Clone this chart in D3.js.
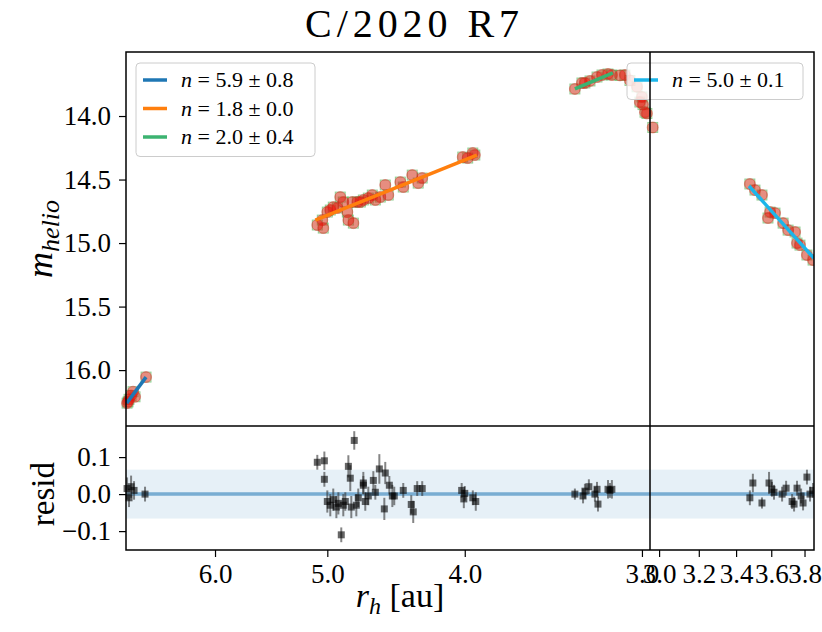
<!DOCTYPE html>
<html>
<head>
<meta charset="utf-8">
<script src="https://cdn.jsdelivr.net/npm/d3@7"></script>
<style>
  body { margin: 0; background: #fff; }
  svg text { font-family: "Liberation Serif", "DejaVu Serif", serif; fill: #000; }
</style>
</head>
<body>
<div id="chart"></div>
<script>
// ---- data ----
// inbound, blue fit (far)
const rhA = [6.921, 6.910, 6.899, 6.876, 6.854, 6.832, 6.711];
const magA = [16.26, 16.25, 16.23, 16.20, 16.17, 16.21, 16.055];
const resRhA = [6.921, 6.899, 6.876, 6.843, 6.722];
const resA = [0.015, -0.01, 0.02, 0.01, 0.0];
const errA = [0.03, 0.025, 0.03, 0.025, 0.02];

// inbound, orange fit
const rhB = [5.082, 5.041, 5.033, 5.000, 4.976, 4.952, 4.919, 4.896, 4.872, 4.840, 4.832, 4.801, 4.793,
  4.762, 4.739, 4.716, 4.678, 4.648, 4.625, 4.588, 4.551, 4.529, 4.441, 4.420, 4.356, 4.314, 4.286,
  4.013, 3.981, 3.948, 3.935];
const magB = [14.858, 14.819, 14.882, 14.756, 14.740, 14.717, 14.724, 14.638, 14.677, 14.756, 14.819, 14.677, 14.843,
  14.677, 14.677, 14.661, 14.646, 14.622, 14.661, 14.638, 14.543, 14.622, 14.520, 14.559, 14.465, 14.528, 14.488,
  14.323, 14.331, 14.291, 14.307];
const resRhB = [5.082, 5.024, 5.024, 5.000, 4.976, 4.952, 4.927, 4.911, 4.888, 4.872, 4.856, 4.832, 4.817, 4.809,
  4.786, 4.770, 4.755, 4.716, 4.716, 4.701, 4.678, 4.640, 4.625, 4.595, 4.558, 4.551, 4.521, 4.499, 4.485,
  4.420, 4.363, 4.349, 4.321, 4.286, 4.020, 4.006, 4.000, 3.948, 3.929];
const resB = [0.086, 0.09, 0.04, -0.02, -0.03, -0.015, -0.035, -0.025, -0.11, -0.03, -0.02, 0.075, 0.043, -0.035,
  0.145, -0.03, -0.01, 0.03, 0.024, -0.02, -0.005, 0.037, 0.005, 0.068, -0.04, 0.057, 0.024, -0.005, -0.005,
  0.01, -0.028, -0.048, 0.015, 0.015, 0.01, -0.013, 0.002, -0.01, -0.02];
const errB = [0.02, 0.025, 0.02, 0.03, 0.03, 0.03, 0.03, 0.03, 0.02, 0.03, 0.025, 0.03, 0.035, 0.03,
  0.025, 0.03, 0.025, 0.03, 0.025, 0.025, 0.025, 0.025, 0.02, 0.04, 0.03, 0.03, 0.025, 0.03, 0.025,
  0.02, 0.025, 0.03, 0.02, 0.02, 0.02, 0.025, 0.02, 0.02, 0.025];

// inbound, green fit (near perihelion)
const rhC = [3.345, 3.307, 3.291, 3.264, 3.227, 3.201, 3.170, 3.150];
const magC = [13.787, 13.740, 13.740, 13.724, 13.693, 13.677, 13.669, 13.677];
const resRhC = [3.345, 3.301, 3.291, 3.270, 3.238, 3.227, 3.222, 3.170, 3.160, 3.150];
const resC = [0.0, -0.005, 0.008, 0.02, 0.0, 0.013, -0.027, 0.013, 0.01, 0.013];
const errC = [0.015, 0.02, 0.02, 0.02, 0.02, 0.02, 0.02, 0.025, 0.02, 0.025];

// inbound, no fit
const rhD = [3.109, 3.084, 3.059, 3.024, 3.010, 3.000, 2.995, 2.985, 2.976, 2.948];
const magD = [13.68, 13.677, 13.72, 13.77, 13.89, 13.85, 13.91, 13.97, 13.98, 14.09];

// outbound, cyan fit
const rhE = [3.477, 3.506, 3.546, 3.581, 3.593, 3.622, 3.670, 3.700, 3.742, 3.754, 3.772, 3.815, 3.853];
const magE = [14.535, 14.583, 14.622, 14.803, 14.756, 14.764, 14.843, 14.898, 14.913, 15.0, 15.016, 15.094, 15.134];
const resRhE = [3.477, 3.494, 3.546, 3.587, 3.604, 3.616, 3.664, 3.688, 3.724, 3.736, 3.754, 3.779, 3.791, 3.815, 3.834, 3.853];
const resE = [-0.01, 0.03, -0.024, 0.03, 0.013, 0.005, 0.0, 0.016, -0.02, -0.027, 0.016, -0.005, -0.024, 0.046, 0.0, 0.01];
const errE = [0.02, 0.025, 0.015, 0.03, 0.02, 0.02, 0.02, 0.02, 0.02, 0.02, 0.02, 0.02, 0.02, 0.02, 0.02, 0.02];

// fit lines: [r0, m0, r1, m1]
const fitA = [6.925, 16.26, 6.711, 16.055];
const fitB = [5.098, 14.819, 3.922, 14.307];
const fitC = [3.345, 13.787, 3.145, 13.661];
const fitE = [3.472, 14.551, 3.859, 15.12];

const legendIn = [
  { label: "5.9 \u00b1 0.8", color: "#1f77b4" },
  { label: "1.8 \u00b1 0.0", color: "#ff7f0e" },
  { label: "2.0 \u00b1 0.4", color: "#3cb371" }
];
const legendOut = [{ label: "5.0 \u00b1 0.1", color: "#1cb6ea" }];

const magTicks = [14.0, 14.5, 15.0, 15.5, 16.0];
const resTicks = [0.1, 0.0, -0.1];
const inTicks = [6.0, 5.0, 4.0, 3.0];
const outTicks = [3.0, 3.2, 3.4, 3.6, 3.8];
const band = 0.066;

// ---- layout ----
const width = 822, height = 632;
const L = 126, R = 814, xBrk = 650;
const yTop = 52, yMid = 426, yBot = 550;

const svg = d3.select("#chart").append("svg")
  .attr("width", width)
  .attr("height", height);

const xIn = d3.scaleLog().domain([6.933, 2.961]).range([L, xBrk]);
const xOut = d3.scaleLog().domain([2.956, 3.859]).range([xBrk, R]);
const yMag = d3.scaleLinear().domain([13.496, 16.44]).range([yTop, yMid]);
const yRes = d3.scaleLinear().domain([0.184, -0.151]).range([yMid, yBot]);

svg.append("clipPath").attr("id", "clipOut")
  .append("rect").attr("x", xBrk).attr("y", yTop).attr("width", R - xBrk).attr("height", yBot - yTop);

// residual band + zero line
[[L, xBrk], [xBrk, R]].forEach(([x0, x1]) => {
  svg.append("rect")
    .attr("x", x0).attr("width", x1 - x0)
    .attr("y", yRes(band)).attr("height", yRes(-band) - yRes(band))
    .attr("fill", "#1f77b4").attr("fill-opacity", 0.11);
  svg.append("line")
    .attr("x1", x0).attr("x2", x1)
    .attr("y1", yRes(0)).attr("y2", yRes(0))
    .attr("stroke", "#1f77b4").attr("stroke-opacity", 0.55).attr("stroke-width", 3.5);
});

function zip(a, b) { return a.map((v, i) => [v, b[i]]); }

function drawPoints(g, sc, rh, mag) {
  const pts = zip(rh, mag);
  g.selectAll(null).data(pts).enter().append("rect")
    .attr("x", d => sc(d[0]) - 5).attr("y", d => yMag(d[1]) - 5)
    .attr("width", 10).attr("height", 10)
    .attr("fill", "#2ca02c").attr("fill-opacity", 0.2)
    .attr("stroke", "#2ca02c").attr("stroke-opacity", 0.45).attr("stroke-width", 1);
  g.selectAll(null).data(pts).enter().append("circle")
    .attr("cx", d => sc(d[0])).attr("cy", d => yMag(d[1]))
    .attr("r", 5.5)
    .attr("fill", "red").attr("fill-opacity", 0.4)
    .attr("stroke", "#d62728").attr("stroke-opacity", 0.4).attr("stroke-width", 1);
}

function drawFit(g, sc, f, color) {
  g.append("line")
    .attr("x1", sc(f[0])).attr("y1", yMag(f[1]))
    .attr("x2", sc(f[2])).attr("y2", yMag(f[3]))
    .attr("stroke", color).attr("stroke-width", 3.5);
}

function drawRes(g, sc, rh, res, err) {
  const pts = rh.map((r, i) => ({ r: r, v: res[i], e: err[i] }));
  g.selectAll(null).data(pts).enter().append("line")
    .attr("x1", d => sc(d.r)).attr("x2", d => sc(d.r))
    .attr("y1", d => yRes(d.v + d.e)).attr("y2", d => yRes(d.v - d.e))
    .attr("stroke", "#333").attr("stroke-opacity", 0.6).attr("stroke-width", 2);
  g.selectAll(null).data(pts).enter().append("rect")
    .attr("x", d => sc(d.r) - 3.5).attr("y", d => yRes(d.v) - 3.5)
    .attr("width", 7).attr("height", 7)
    .attr("fill", "#000").attr("fill-opacity", 0.6);
}

const gIn = svg.append("g");
drawPoints(gIn, xIn, rhA, magA);
drawPoints(gIn, xIn, rhB, magB);
drawPoints(gIn, xIn, rhC, magC);
drawPoints(gIn, xIn, rhD, magD);
drawFit(gIn, xIn, fitA, legendIn[0].color);
drawFit(gIn, xIn, fitB, legendIn[1].color);
drawFit(gIn, xIn, fitC, legendIn[2].color);
drawRes(gIn, xIn, resRhA, resA, errA);
drawRes(gIn, xIn, resRhB, resB, errB);
drawRes(gIn, xIn, resRhC, resC, errC);

const gOut = svg.append("g").attr("clip-path", "url(#clipOut)");
drawPoints(gOut, xOut, rhE, magE);
drawFit(gOut, xOut, fitE, legendOut[0].color);
drawRes(gOut, xOut, resRhE, resE, errE);

// ---- legends ----
function legend(x, y, w, items) {
  const g = svg.append("g").attr("transform", `translate(${x},${y})`);
  const rowH = 28.5;
  g.append("rect")
    .attr("width", w).attr("height", 8 + rowH * items.length)
    .attr("rx", 4)
    .attr("fill", "#fff").attr("fill-opacity", 0.8)
    .attr("stroke", "#ccc").attr("stroke-width", 1);
  items.forEach((d, i) => {
    const cy = 17 + i * rowH;
    g.append("line").attr("x1", 7).attr("x2", 31).attr("y1", cy).attr("y2", cy)
      .attr("stroke", d.color).attr("stroke-width", 3.5);
    const t = g.append("text").attr("x", 45).attr("y", cy + 7).attr("font-size", 22);
    t.append("tspan").attr("font-style", "italic").text("n");
    t.append("tspan").text(" = " + d.label);
  });
}
legend(136, 63, 179, legendIn);
legend(627, 63, 176, legendOut);

// ---- axes ----
const fmt = d3.format(".1f");
svg.append("g").attr("transform", `translate(${L},0)`)
  .call(d3.axisLeft(yMag).tickValues(magTicks).tickFormat(fmt).tickSizeOuter(0).tickSize(7).tickPadding(8));
svg.append("g").attr("transform", `translate(${L},0)`)
  .call(d3.axisLeft(yRes).tickValues(resTicks).tickFormat(fmt).tickSizeOuter(0).tickSize(7).tickPadding(8));
svg.append("g").attr("transform", `translate(0,${yBot})`)
  .call(d3.axisBottom(xIn).tickValues(inTicks).tickFormat(fmt).tickSizeOuter(0).tickSize(7).tickPadding(7));
svg.append("g").attr("transform", `translate(0,${yBot})`)
  .call(d3.axisBottom(xOut).tickValues(outTicks).tickFormat(fmt).tickSizeOuter(0).tickSize(7).tickPadding(7));

svg.selectAll(".domain").remove();
svg.selectAll(".tick line").attr("stroke", "#000").attr("stroke-width", 1.2);
svg.selectAll(".tick text").attr("font-size", 27).attr("font-family", "Liberation Serif").attr("fill", "#000");

// frames
const frame = svg.append("g").attr("fill", "none").attr("stroke", "#000").attr("stroke-width", 1.5);
frame.append("rect").attr("x", L).attr("y", yTop).attr("width", R - L).attr("height", yBot - yTop);
frame.append("line").attr("x1", L).attr("x2", R).attr("y1", yMid).attr("y2", yMid);
frame.append("line").attr("x1", xBrk).attr("x2", xBrk).attr("y1", yTop).attr("y2", yBot);

// ---- labels ----
svg.append("text").attr("x", 412).attr("y", 37).attr("text-anchor", "middle")
  .attr("font-size", 40).attr("textLength", 214).attr("lengthAdjust", "spacing")
  .text("C/2020 R7");

const yl = svg.append("text")
  .attr("transform", `translate(52,${(yTop + yMid) / 2}) rotate(-90)`)
  .attr("text-anchor", "middle").attr("font-size", 36);
yl.append("tspan").attr("font-style", "italic").text("m");
yl.append("tspan").attr("font-style", "italic").attr("font-size", 26).attr("dy", 7).text("helio");

svg.append("text")
  .attr("transform", `translate(54,${yRes(0)}) rotate(-90)`)
  .attr("text-anchor", "middle").attr("font-size", 33).text("resid");

const xl = svg.append("text").attr("x", 400).attr("y", 607)
  .attr("text-anchor", "middle").attr("font-size", 34);
xl.append("tspan").attr("font-style", "italic").text("r");
xl.append("tspan").attr("font-style", "italic").attr("font-size", 24).attr("dy", 7).text("h");
xl.append("tspan").attr("dy", -7).text(" [au]");
</script>
</body>
</html>
